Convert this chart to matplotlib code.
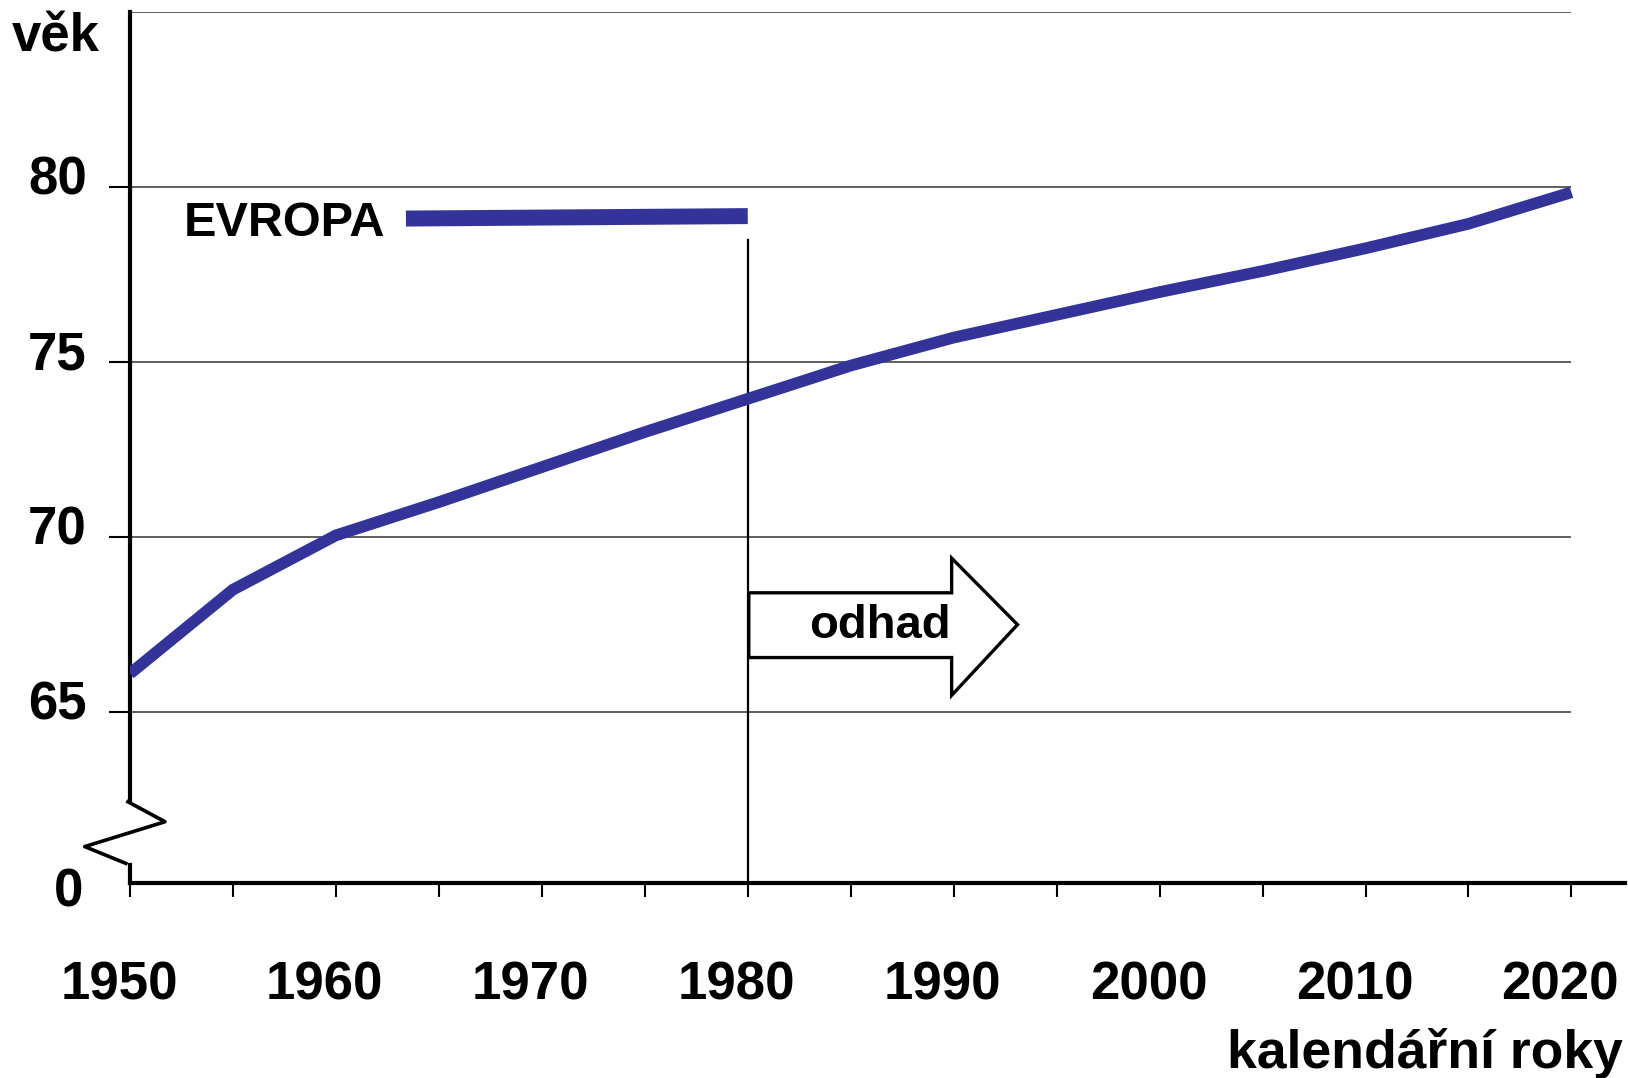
import matplotlib.pyplot as plt
from matplotlib.patches import Polygon

plt.rcParams['font.family'] = ['Liberation Sans', 'DejaVu Sans']
plt.rcParams['font.weight'] = 'bold'

# data
years = [1950, 1955, 1960, 1965, 1970, 1975, 1980, 1985, 1990, 1995, 2000, 2005, 2010, 2015, 2020]
age = [66.1, 68.5, 70.05, 71.0, 72.0, 73.0, 73.95, 74.9, 75.7, 76.35, 77.0, 77.6, 78.25, 78.95, 79.85]
grid_levels = [65, 70, 75, 80, 85]
ytick_vals = [65, 70, 75, 80]
xlabel_years = [1950, 1960, 1970, 1980, 1990, 2000, 2010, 2020]
line_color = '#333399'

fig = plt.figure(figsize=(16.28, 10.78), dpi=100)
ax = fig.add_axes([130/1628, 195/1078, 1495/1628, 871/1078])
ax.set_xlim(1950, 2022.6)
ax.set_ylim(60.12, 85)

ax.spines['top'].set_visible(False)
ax.spines['right'].set_visible(False)
ax.spines['left'].set_linewidth(3)
ax.spines['bottom'].set_linewidth(3)
ax.spines['left'].set_bounds(62.45, 85)

# gridlines
ax.hlines(grid_levels, 1950, 2020, color='#333333', lw=1.1, zorder=1)

# main line
ax.plot(years, age, color=line_color, lw=8.4, solid_capstyle='butt', solid_joinstyle='miter', zorder=3)

# legend-ish label
ax.plot([1963.4, 1980.0], [79.1, 79.17], color=line_color, lw=11.5, solid_capstyle='butt', zorder=3)
ax.text(1952.6, 78.6, 'EVROPA', fontsize=35, fontweight='bold', va='baseline', ha='left')

# 1980 vertical line
ax.plot([1980, 1980], [78.5, 60.12], color='black', lw=1.6, zorder=2, clip_on=False)

# odhad arrow
arrow = Polygon([(1980.05, 68.41), (1989.9, 68.41), (1989.9, 69.4), (1993.1, 67.5),
                 (1989.9, 65.48), (1989.9, 66.56), (1980.05, 66.56)],
                closed=True, facecolor='white', edgecolor='black', lw=2.4, joinstyle='miter', zorder=4)
ax.add_patch(arrow)
ax.text(1986.4, 67.13, 'odhad', fontsize=34, fontweight='bold', ha='center', va='baseline', zorder=5)

# axis break zigzag
ax.plot([1949.9, 1951.7, 1947.8, 1949.8], [62.44, 61.87, 61.16, 60.68], color='black', lw=2.6,
        clip_on=False, zorder=5)
ax.plot([1950, 1950], [60.63, 60.12], color='black', lw=3, clip_on=False, zorder=5)

# ticks
ax.set_yticks(ytick_vals)
ax.set_yticklabels([])
ax.tick_params(axis='y', direction='out', length=15, width=1.5)
ax.set_xticks(range(1950, 2021, 5))
ax.set_xticklabels([])
ax.tick_params(axis='x', direction='out', length=10, width=1.5)

for v in ytick_vals:
    ax.annotate(str(v), xy=(0, v), xycoords=('axes fraction', 'data'), xytext=(-31, 4.5),
                textcoords='offset points', ha='right', va='center', fontsize=38, fontweight='bold')
ax.annotate('0', xy=(0, 0), xycoords='axes fraction', xytext=(-34, -7),
            textcoords='offset points', ha='right', va='center', fontsize=38, fontweight='bold')

for yr in xlabel_years:
    ax.annotate(str(yr), xy=(yr, 0), xycoords=('data', 'axes fraction'), xytext=(-8, -74),
                textcoords='offset points', ha='center', va='center', fontsize=38, fontweight='bold')

fig.text(12/1628, 1 - 52/1078, 'věk', fontsize=38, fontweight='bold', ha='left', va='baseline')
fig.text(1623/1628, 1 - 1068/1078, 'kalendářní roky', fontsize=38.5, fontweight='bold', ha='right', va='baseline')

fig.savefig('out.png', dpi=100)
